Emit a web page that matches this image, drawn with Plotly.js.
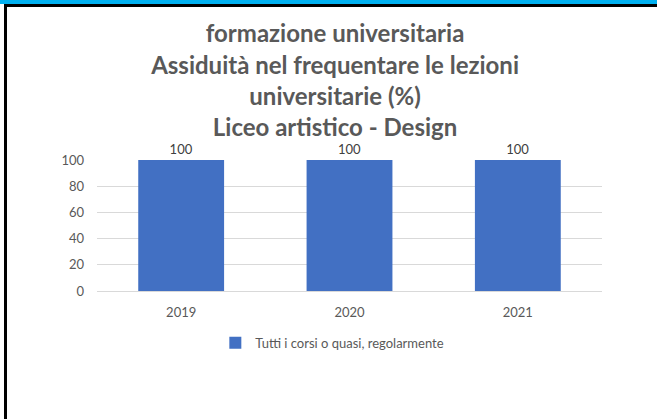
<!DOCTYPE html>
<html>
<head>
<meta charset="utf-8">
<script src="https://cdn.plot.ly/plotly-3.0.1.min.js"></script>
<style>
  html, body { margin: 0; padding: 0; background: #fff; }
  #wrap { position: relative; width: 657px; height: 419px; overflow: hidden; }
  #chart { position: absolute; left: 0; top: 0; width: 657px; height: 419px; }
  #topband { position: absolute; left: 0; top: 0; width: 657px; height: 4px; background: #00b0f0; }
  #topline { position: absolute; left: 4px; top: 4px; width: 653px; height: 3px; background: #000; }
  #leftline { position: absolute; left: 4px; top: 4px; width: 3px; height: 415px; background: #000; }
</style>
</head>
<body>
<div id="wrap">
  <div id="chart"></div>
  <div id="topband"></div>
  <div id="topline"></div>
  <div id="leftline"></div>
</div>
<script>
const years = ["2019", "2020", "2021"];
const values = [100, 100, 100];
const seriesName = "Tutti i corsi o quasi, regolarmente";
const titleLines = [
  "formazione universitaria",
  "Assiduità nel frequentare le lezioni",
  "universitarie (%)",
  "Liceo artistico - Design"
];
const yTicks = [0, 20, 40, 60, 80, 100];

const trace = {
  type: "bar",
  x: years,
  y: values,
  name: seriesName,
  text: values.map(String),
  textposition: "outside",
  cliponaxis: false,
  textfont: { family: "Lato, 'Open Sans', sans-serif", size: 13, color: "#404040" },
  marker: { color: "#4270c3", line: { width: 0 } },
  showlegend: true
};

const layout = {
  width: 657,
  height: 419,
  margin: { l: 97, r: 55, t: 160, b: 128 },
  paper_bgcolor: "#ffffff",
  plot_bgcolor: "#ffffff",
  font: { family: "Lato, 'Open Sans', sans-serif", color: "#595959" },
  title: {
    text: titleLines.map(s => "<b>" + s + "</b>").join("<br>"),
    font: { family: "Lato, 'Open Sans', sans-serif", size: 24, color: "#595959" },
    x: 0.51,
    xanchor: "center",
    y: 0.899,
    yanchor: "top",
    yref: "container"
  },
  bargap: 0.49,
  xaxis: {
    type: "category",
    tickfont: { size: 13, color: "#595959" },
    showline: true,
    linecolor: "#d9d9d9",
    linewidth: 1,
    ticks: "",
    ticklabelstandoff: 9,
    showgrid: false,
    fixedrange: true
  },
  yaxis: {
    range: [0, 100],
    tickvals: yTicks,
    ticktext: yTicks.map(String),
    tickfont: { size: 13, color: "#595959" },
    showgrid: true,
    gridcolor: "#d9d9d9",
    gridwidth: 1,
    zeroline: false,
    showline: false,
    ticks: "",
    ticklen: 0,
    ticklabelstandoff: 12,
    automargin: false
  },
  legend: {
    orientation: "h",
    x: 0.466,
    xanchor: "center",
    y: -0.28,
    yanchor: "top",
    font: { size: 13, color: "#595959" },
    itemwidth: 30
  },
  showlegend: true
};

Plotly.newPlot("chart", [trace], layout, { displayModeBar: false, staticPlot: true });
</script>
</body>
</html>
